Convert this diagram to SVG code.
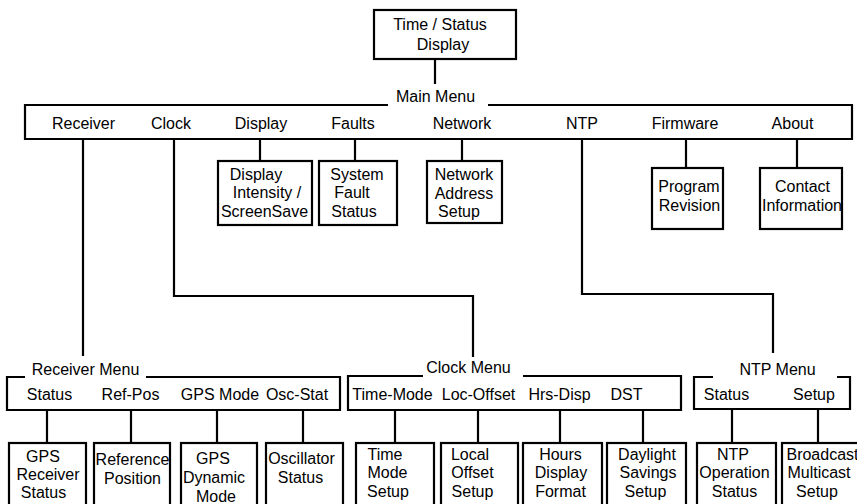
<svg xmlns="http://www.w3.org/2000/svg" width="857" height="504" viewBox="0 0 857 504">
<style>
text{font-family:"Liberation Sans",Arial,Helvetica,sans-serif;font-size:16px;fill:#000;text-anchor:middle}
.box{fill:#fff;stroke:#000;stroke-width:2.2}
.menu{fill:none;stroke:#000;stroke-width:2.2}
.con path{fill:none;stroke:#000;stroke-width:2.2}
</style>
<rect width="857" height="504" fill="#fff"/>
<g class="con" id="connectors">
<path d="M435,59 V84"/>
<path d="M83,139 V356"/>
<path d="M174,139 V296 H473 V357"/>
<path d="M260,139 V161"/>
<path d="M355,139 V161"/>
<path d="M462,139 V161"/>
<path d="M582,139 V294 H773 V353"/>
<path d="M686,139 V168"/>
<path d="M797,139 V168"/>
<path d="M47,410 V443 M131,410 V443 M217,410 V443 M303,410 V443"/>
<path d="M395,410 V443 M478,410 V443 M560,410 V443 M643,410 V443"/>
<path d="M732,409 V443 M818,409 V443"/>
</g>
<g id="time-status">
<rect class="box" x="374" y="10" width="142" height="49"/>
<text x="440" y="30">Time / Status</text>
<text x="443" y="50">Display</text>
</g>
<g id="main-menu">
<path class="menu" d="M388,105 H25 V139 H852 V105 H488"/>
<text x="435.5" y="102">Main Menu</text>
<text x="83.5" y="129">Receiver</text>
<text x="171" y="129">Clock</text>
<text x="261" y="129">Display</text>
<text x="353" y="129">Faults</text>
<text x="462" y="129">Network</text>
<text x="582" y="129">NTP</text>
<text x="685" y="129">Firmware</text>
<text x="792.5" y="129">About</text>
</g>
<g id="display-intensity">
<rect class="box" x="218" y="161" width="94" height="64"/>
<text x="256" y="180">Display</text>
<text x="267" y="198">Intensity /</text>
<text x="264.5" y="217">ScreenSave</text>
</g>
<g id="system-fault">
<rect class="box" x="319" y="161" width="78" height="64"/>
<text x="357" y="180">System</text>
<text x="352" y="198">Fault</text>
<text x="354" y="217">Status</text>
</g>
<g id="network-address">
<rect class="box" x="427" y="161" width="75" height="62"/>
<text x="464" y="180">Network</text>
<text x="464" y="199">Address</text>
<text x="459" y="217">Setup</text>
</g>
<g id="program-revision">
<rect class="box" x="652" y="168" width="71" height="61"/>
<text x="689" y="192">Program</text>
<text x="689.5" y="211">Revision</text>
</g>
<g id="contact-information">
<rect class="box" x="760" y="168" width="82" height="61"/>
<text x="802.5" y="192">Contact</text>
<text x="802" y="211">Information</text>
</g>
<g id="receiver-menu">
<path class="menu" d="M25,377 H7 V410 H340 V377 H146"/>
<text x="85.5" y="375">Receiver Menu</text>
<text x="49.5" y="400">Status</text>
<text x="130.5" y="400">Ref-Pos</text>
<text x="220" y="400">GPS Mode</text>
<text x="297" y="400">Osc-Stat</text>
</g>
<g id="gps-receiver-status">
<rect class="box" x="9" y="443" width="77" height="80"/>
<text x="43" y="462">GPS</text>
<text x="48" y="480">Receiver</text>
<text x="43.5" y="498">Status</text>
</g>
<g id="reference-position">
<rect class="box" x="94" y="443" width="76" height="80"/>
<text x="132.5" y="465">Reference</text>
<text x="132.5" y="484">Position</text>
</g>
<g id="gps-dynamic-mode">
<rect class="box" x="181" y="443" width="76" height="80"/>
<text x="213" y="464">GPS</text>
<text x="214" y="483">Dynamic</text>
<text x="216" y="502">Mode</text>
</g>
<g id="oscillator-status">
<rect class="box" x="266" y="443" width="77" height="80"/>
<text x="301.5" y="464">Oscillator</text>
<text x="300.5" y="483">Status</text>
</g>
<g id="clock-menu">
<path class="menu" d="M423,376 H348 V410 H681 V376 H523"/>
<text x="468.5" y="373">Clock Menu</text>
<text x="392.5" y="400">Time-Mode</text>
<text x="478.5" y="400">Loc-Offset</text>
<text x="559.5" y="400">Hrs-Disp</text>
<text x="626.5" y="400">DST</text>
</g>
<g id="time-mode-setup">
<rect class="box" x="356" y="443" width="78" height="80"/>
<text x="385" y="460">Time</text>
<text x="387.5" y="478">Mode</text>
<text x="388" y="497">Setup</text>
</g>
<g id="local-offset-setup">
<rect class="box" x="441" y="443" width="77" height="80"/>
<text x="470" y="460">Local</text>
<text x="472.5" y="478">Offset</text>
<text x="472.5" y="497">Setup</text>
</g>
<g id="hours-display-format">
<rect class="box" x="523" y="443" width="79" height="80"/>
<text x="560.5" y="460">Hours</text>
<text x="561" y="478">Display</text>
<text x="560.5" y="497">Format</text>
</g>
<g id="daylight-savings-setup">
<rect class="box" x="607" y="443" width="79" height="80"/>
<text x="647" y="460">Daylight</text>
<text x="648" y="478">Savings</text>
<text x="645.5" y="497">Setup</text>
</g>
<g id="ntp-menu">
<path class="menu" d="M713,377 H694 V409 H850 V377 H837"/>
<text x="777.5" y="375">NTP Menu</text>
<text x="726.5" y="400">Status</text>
<text x="814" y="400">Setup</text>
</g>
<g id="ntp-operation-status">
<rect class="box" x="697" y="443" width="79" height="80"/>
<text x="733" y="460">NTP</text>
<text x="734.5" y="478">Operation</text>
<text x="734.5" y="497">Status</text>
</g>
<g id="broadcast-multicast-setup">
<rect class="box" x="782" y="443" width="90" height="80"/>
<text x="822.5" y="460">Broadcast</text>
<text x="819" y="478">Multicast</text>
<text x="817" y="497">Setup</text>
</g>
</svg>
